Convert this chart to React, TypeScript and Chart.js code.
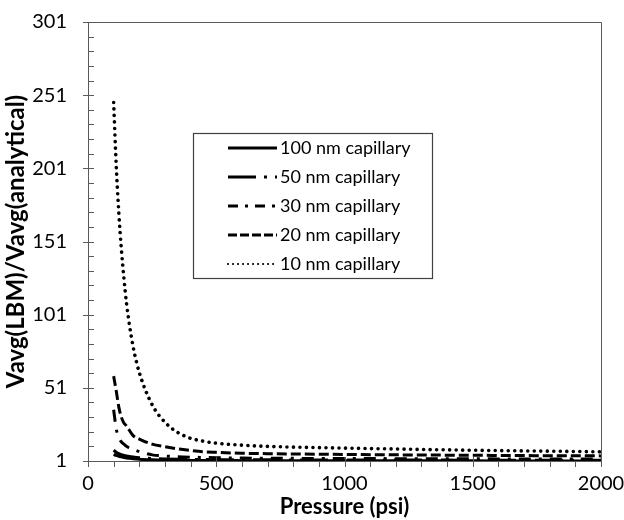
import React, { useEffect, useRef } from "react";
import { Chart, registerables } from "chart.js";

Chart.register(...registerables);

const pressure = [100, 110, 120, 130, 140, 150, 175, 200, 250, 300, 350, 400, 450, 500, 600, 700, 800, 1000, 1200, 1400, 1600, 1800, 2000];

const cap100 = [5.5, 4.8, 4.2, 3.8, 3.4, 3.1, 2.6, 2.2, 1.8, 1.6, 1.5, 1.4, 1.35, 1.3, 1.25, 1.2, 1.18, 1.15, 1.12, 1.1, 1.08, 1.06, 1.05];
const cap50 = [8.5, 7, 6, 5.3, 4.8, 4.4, 3.7, 3.2, 2.7, 2.4, 2.2, 2.1, 2.0, 1.95, 1.85, 1.8, 1.75, 1.7, 1.65, 1.6, 1.56, 1.53, 1.5];
const cap30 = [36, 23, 17.5, 14, 12.5, 11, 9, 7.4, 5.2, 4.4, 3.9, 3.6, 3.4, 3.2, 3.0, 2.9, 2.8, 2.7, 2.6, 2.5, 2.45, 2.4, 2.3];
const cap20 = [59, 49, 38, 31, 27, 25, 18.5, 16, 12.5, 10.8, 9.3, 8.2, 7.3, 6.9, 6.3, 6.0, 5.8, 5.5, 5.2, 5.0, 4.8, 4.6, 4.5];
const cap10 = [246, 203, 171, 146, 126, 109, 80, 61.5, 39.5, 27.5, 20.5, 16.5, 14.5, 13.2, 11.8, 11, 10.5, 9.8, 9.2, 8.6, 8.1, 7.7, 7.3];

const seriesLabels = ["100 nm capillary", "50 nm capillary", "30 nm capillary", "20 nm capillary", "10 nm capillary"];

const yMin = 1;
const yMax = 301;
const yMajorStep = 50;
const yMinorStep = 10;
const xMin = 0;
const xMax = 2000;
const xMajorStep = 500;
const xMinorStep = 100;

const FONT = "Lato, 'Open Sans', sans-serif";

const styles = [
  { dash: [] as number[], width: 3, cap: "butt" as CanvasLineCap, legendWidth: 3, legendDash: [] as number[] },
  { dash: [28, 8, 3, 8], width: 3, cap: "butt" as CanvasLineCap, legendWidth: 3, legendDash: [28, 8, 3, 8] },
  { dash: [12, 8, 3, 8], width: 3, cap: "butt" as CanvasLineCap, legendWidth: 3, legendDash: [10, 7, 3, 7] },
  { dash: [10, 4], width: 3, cap: "butt" as CanvasLineCap, legendWidth: 3, legendDash: [9, 3] },
  { dash: [0.01, 6.5], width: 3.6, cap: "round" as CanvasLineCap, legendWidth: 2.2, legendDash: [0.01, 5] },
];

const zeroPad = (s: any) => {
  s.paddingTop = 0;
  s.paddingBottom = 0;
  s.paddingLeft = 0;
  s.paddingRight = 0;
};

const framePlugin = {
  id: "frameTicks",
  afterDraw(chart: any) {
    const { ctx, chartArea } = chart;
    const xs = chart.scales.x;
    const ys = chart.scales.y;
    ctx.save();
    ctx.strokeStyle = "#5a5a5a";
    ctx.lineWidth = 1;
    ctx.beginPath();
    ctx.rect(Math.round(chartArea.left) + 0.5, Math.round(chartArea.top) + 0.5, Math.round(chartArea.right - chartArea.left), Math.round(chartArea.bottom - chartArea.top));
    ctx.stroke();
    for (let v = yMin; v <= yMax + 0.001; v += yMinorStep) {
      const py = Math.round(ys.getPixelForValue(v)) + 0.5;
      const major = (v - yMin) % yMajorStep === 0;
      ctx.beginPath();
      if (major) {
        ctx.moveTo(chartArea.left - 5, py);
        ctx.lineTo(chartArea.left + 6, py);
      } else {
        ctx.moveTo(chartArea.left, py);
        ctx.lineTo(chartArea.left + 6, py);
      }
      ctx.stroke();
    }
    for (let v = xMin; v <= xMax + 0.001; v += xMinorStep) {
      const px = Math.round(xs.getPixelForValue(v)) + 0.5;
      const major = v % xMajorStep === 0;
      ctx.beginPath();
      if (major) {
        ctx.moveTo(px, chartArea.bottom - 4);
        ctx.lineTo(px, chartArea.bottom + 6);
      } else {
        ctx.moveTo(px, chartArea.bottom);
        ctx.lineTo(px, chartArea.bottom + 6);
      }
      ctx.stroke();
    }
    const bx = 193.5, by = 133.5, bw = 239, bh = 145;
    ctx.strokeStyle = "#404040";
    ctx.lineWidth = 1.2;
    ctx.strokeRect(bx, by, bw, bh);
    chart.data.datasets.forEach((ds: any, i: number) => {
      const st = styles[i];
      const cy = by + 14.5 + i * 29;
      ctx.save();
      ctx.strokeStyle = "#000";
      ctx.lineWidth = st.legendWidth;
      ctx.lineCap = st.cap;
      ctx.setLineDash(st.legendDash);
      ctx.beginPath();
      ctx.moveTo(228, cy);
      ctx.lineTo(277, cy);
      ctx.stroke();
      ctx.restore();
      ctx.fillStyle = "#000";
      ctx.font = "18px " + FONT;
      ctx.textBaseline = "middle";
      ctx.textAlign = "left";
      ctx.fillText(ds.label, 280, cy);
    });
    ctx.restore();
  },
};

export default function App() {
  const ref = useRef<HTMLCanvasElement | null>(null);
  useEffect(() => {
    if (!ref.current) return;
    const datasets = [cap100, cap50, cap30, cap20, cap10].map((vals, i) => ({
      label: seriesLabels[i],
      data: pressure.map((p, j) => ({ x: p, y: vals[j] })),
      borderColor: "#000",
      backgroundColor: "#000",
      borderWidth: styles[i].width,
      borderDash: styles[i].dash,
      borderCapStyle: styles[i].cap,
      pointRadius: 0,
      cubicInterpolationMode: "monotone" as const,
      fill: false,
    }));
    const chart = new Chart(ref.current, {
      type: "line",
      data: { datasets },
      plugins: [framePlugin],
      options: {
        animation: false,
        responsive: false,
        maintainAspectRatio: false,
        layout: { padding: { left: 0, top: 22, right: 23, bottom: 0 } },
        plugins: { legend: { display: false }, tooltip: { enabled: false } },
        scales: {
          x: {
            type: "linear",
            min: xMin,
            max: xMax,
            grid: { display: false, drawTicks: false },
            border: { display: false },
            afterFit: (s: any) => { s.height = 59; zeroPad(s); },
            ticks: {
              stepSize: xMajorStep,
              padding: 11,
              color: "#000",
              font: { family: FONT, size: 20 },
              maxRotation: 0,
              callback: (v: any) => String(v),
            },
            title: {
              display: true,
              text: "Pressure (psi)",
              color: "#000",
              font: { family: FONT, size: 22, weight: "bold" },
              padding: { top: 0, bottom: 0 },
            },
          },
          y: {
            type: "linear",
            min: yMin,
            max: yMax,
            grid: { display: false, drawTicks: false },
            border: { display: false },
            afterFit: (s: any) => { s.width = 88; zeroPad(s); },
            afterBuildTicks: (s: any) => {
              const t = [];
              for (let v = yMin; v <= yMax; v += yMajorStep) t.push({ value: v });
              s.ticks = t;
            },
            ticks: {
              padding: 21,
              color: "#000",
              font: { family: FONT, size: 20 },
              callback: (v: any) => String(v),
            },
            title: {
              display: true,
              text: "Vavg(LBM)/Vavg(analytical)",
              color: "#000",
              font: { family: FONT, size: 24, weight: "bold" },
              padding: { top: 2, bottom: 0 },
            },
          },
        },
      },
    });
    return () => chart.destroy();
  }, []);
  return (
    <div style={{ position: "fixed", left: 0, top: 0, width: 624, height: 520, background: "#fff" }}>
      <canvas ref={ref} width={624} height={520} style={{ width: 624, height: 520 }} />
    </div>
  );
}
